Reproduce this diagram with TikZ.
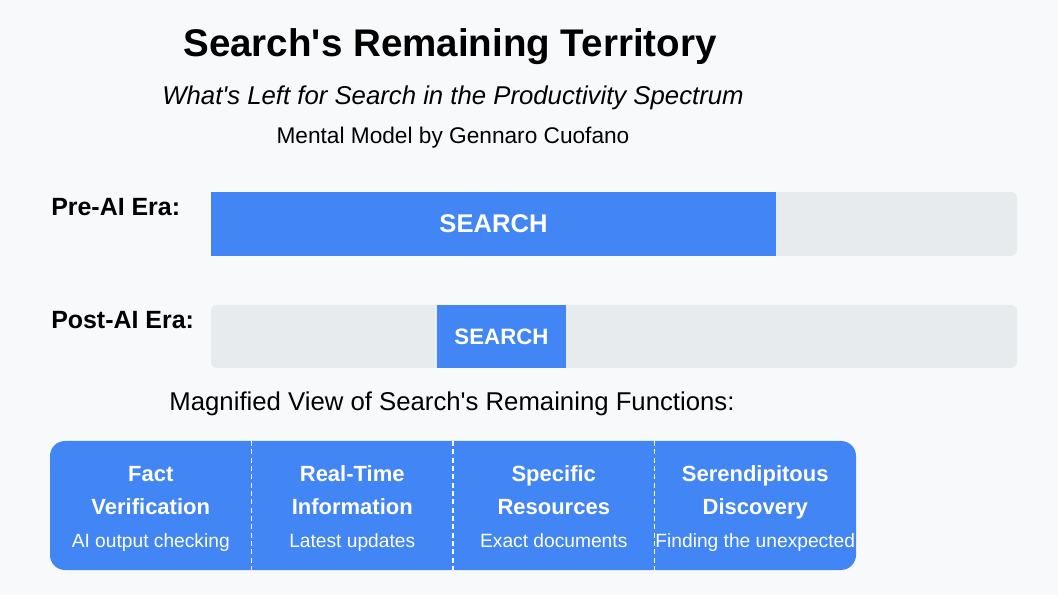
\documentclass[tikz,border=0pt]{standalone}
\usepackage{fontspec}
\setmainfont[Ligatures=TeXOff]{Liberation Sans}
\usepackage{tikz}

\definecolor{pagebg}{HTML}{F8F9FB}
\definecolor{searchblue}{HTML}{4285F4}
\definecolor{bargrey}{HTML}{E8EBEE}

\begin{document}
\begin{tikzpicture}[x=0.75pt,y=0.75pt,yscale=-1,xscale=1,
    eralabel/.style={anchor=base west,inner sep=0pt,font=\fontsize{18.7}{22}\selectfont\bfseries},
    cardhead/.style={anchor=base,inner sep=0pt,text=white,font=\fontsize{16.5}{20}\selectfont\bfseries},
    cardsub/.style={anchor=base,inner sep=0pt,text=white,font=\fontsize{14.4}{17}\selectfont},
    divider/.style={draw=white,line width=1,dash pattern=on 3.75pt off 2.5pt}]

        %Shape: Rectangle [page]
        \fill [pagebg] (0,0) rectangle (1058,595);
        \useasboundingbox (0,0) rectangle (1058,595);

        % Text Node
        \node (title) [anchor=base,inner sep=0pt,font=\fontsize{28.9}{34}\selectfont\bfseries] at (450,57) {Search's Remaining Territory};
        % Text Node
        \node (subtitle) [anchor=base,inner sep=0pt,font=\fontsize{19.3}{23}\selectfont\itshape] at (453,105) {What's Left for Search in the Productivity Spectrum};
        % Text Node
        \node (author) [anchor=base,inner sep=0pt,font=\fontsize{17}{20}\selectfont] at (453,144) {Mental Model by Gennaro Cuofano};

        %Shape: Rectangle [pre-AI bar]
        \fill [bargrey,rounded corners=4.5] (211,192) rectangle (1017,256);
        \fill [searchblue] (211,192) rectangle (776,256);
        % Text Node
        \node (prelabel) [eralabel] at (51,216) {Pre-AI Era:};
        % Text Node
        \node (presearch) [anchor=base,inner sep=0pt,text=white,font=\fontsize{19.2}{23}\selectfont\bfseries] at (493.5,233) {SEARCH};

        %Shape: Rectangle [post-AI bar]
        \fill [bargrey,rounded corners=4.5] (211,305) rectangle (1017,368);
        \fill [searchblue] (437,305) rectangle (566,368);
        % Text Node
        \node (postlabel) [eralabel] at (51,329) {Post-AI Era:};
        % Text Node
        \node (postsearch) [anchor=base,inner sep=0pt,text=white,font=\fontsize{16.7}{20}\selectfont\bfseries] at (501.5,345) {SEARCH};

        % Text Node
        \node (magnified) [anchor=base,inner sep=0pt,font=\fontsize{19.3}{23}\selectfont] at (452,411) {Magnified View of Search's Remaining Functions:};

        %Shape: Rectangle [magnified view]
        \fill [searchblue,rounded corners=11.25] (50,441) rectangle (856,570);
        %Straight Lines
        \draw [divider] (251.5,441) -- (251.5,570);
        \draw [divider] (453,441) -- (453,570);
        \draw [divider] (654.5,441) -- (654.5,570);

        % Text Node
        \node (facthead) [cardhead] at (150.75,482) {Fact};
        \node (facthead2) [cardhead] at (150.75,515) {Verification};
        \node (factsub) [cardsub] at (150.75,547) {AI output checking};
        % Text Node
        \node (realhead) [cardhead] at (352.25,482) {Real-Time};
        \node (realhead2) [cardhead] at (352.25,515) {Information};
        \node (realsub) [cardsub] at (352.25,547) {Latest updates};
        % Text Node
        \node (spechead) [cardhead] at (553.75,482) {Specific};
        \node (spechead2) [cardhead] at (553.75,515) {Resources};
        \node (specsub) [cardsub] at (553.75,547) {Exact documents};
        % Text Node
        \node (serehead) [cardhead] at (755.25,482) {Serendipitous};
        \node (serehead2) [cardhead] at (755.25,515) {Discovery};
        \node (seresub) [cardsub] at (755.25,547) {Finding the unexpected};

    \end{tikzpicture}
\end{document}
